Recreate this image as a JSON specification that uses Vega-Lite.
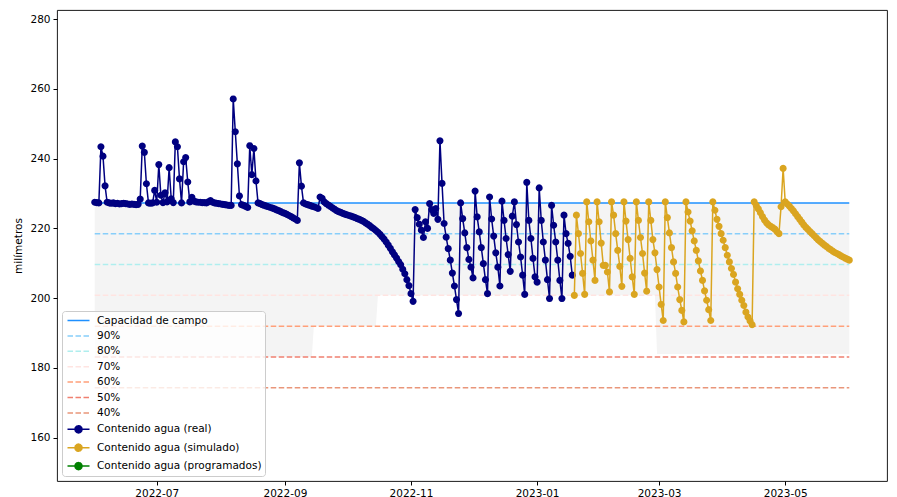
{
  "$schema": "https://vega.github.io/schema/vega-lite/v6.json",
  "width": 830,
  "height": 471,
  "autosize": "none",
  "padding": {"left": 57, "top": 10, "right": 10, "bottom": 16},
  "background": "white",
  "config": {
    "font": "DejaVu Sans",
    "view": {"stroke": "black", "strokeWidth": 0.9},
    "axis": {"domain": false, "grid": false, "labelFont": "DejaVu Sans", "labelFontSize": 10.5, "labelColor": "black", "tickColor": "black", "tickSize": 4, "labelPadding": 3, "titleFont": "DejaVu Sans", "titleFontSize": 10.5, "titleFontWeight": "normal", "titleColor": "black"},
    "legend": {"orient": "bottom-left", "offset": 5, "padding": 3, "symbolOffset": 7, "fillColor": "rgba(255,255,255,0.8)", "strokeColor": "#cccccc", "cornerRadius": 3, "labelFont": "DejaVu Sans", "labelFontSize": 10.5, "labelColor": "black", "labelLimit": 0, "symbolSize": 121, "labelOffset": 12, "rowPadding": 3.4, "title": null}
  },
  "datasets": {
    "band": [
      {"d": "2022-06-01", "hi": 227.3, "lo": 183.15},
      {"d": "2022-09-14", "hi": 227.3, "lo": 183.15},
      {"d": "2022-09-15", "hi": 227.3, "lo": 191.98},
      {"d": "2022-10-15", "hi": 227.3, "lo": 191.98},
      {"d": "2022-10-16", "hi": 227.3, "lo": 200.81},
      {"d": "2023-02-27", "hi": 227.3, "lo": 200.81},
      {"d": "2023-02-28", "hi": 227.3, "lo": 184.0},
      {"d": "2023-06-01", "hi": 227.3, "lo": 184.0}
    ],
    "niv": [
      {"s": "Capacidad de campo", "v": 227.3, "a": "2022-06-01", "b": "2023-06-01"},
      {"s": "90%", "v": 218.47, "a": "2022-06-01", "b": "2023-06-01"},
      {"s": "80%", "v": 209.64, "a": "2022-06-01", "b": "2023-06-01"},
      {"s": "70%", "v": 200.81, "a": "2022-06-01", "b": "2023-06-01"},
      {"s": "60%", "v": 191.98, "a": "2022-06-01", "b": "2023-06-01"},
      {"s": "50%", "v": 183.15, "a": "2022-06-01", "b": "2023-06-01"},
      {"s": "40%", "v": 174.32, "a": "2022-06-01", "b": "2023-06-01"}
    ],
    "real": [
      {"d":"2022-06-01","v":227.5},{"d":"2022-06-02","v":227.4},{"d":"2022-06-03","v":227.3},{"d":"2022-06-04","v":243.4},{"d":"2022-06-05","v":240.7},{"d":"2022-06-06","v":232.2},{"d":"2022-06-07","v":227.5},{"d":"2022-06-08","v":227.3},{"d":"2022-06-09","v":227.2},{"d":"2022-06-10","v":227.3},
      {"d":"2022-06-11","v":227.1},{"d":"2022-06-12","v":227.2},{"d":"2022-06-13","v":227.0},{"d":"2022-06-14","v":227.1},{"d":"2022-06-15","v":227.2},{"d":"2022-06-16","v":227.1},{"d":"2022-06-17","v":227.0},{"d":"2022-06-18","v":226.9},{"d":"2022-06-19","v":227.0},{"d":"2022-06-20","v":226.9},
      {"d":"2022-06-21","v":226.8},{"d":"2022-06-22","v":226.9},{"d":"2022-06-23","v":228.4},{"d":"2022-06-24","v":243.6},{"d":"2022-06-25","v":241.8},{"d":"2022-06-26","v":232.8},{"d":"2022-06-27","v":227.3},{"d":"2022-06-28","v":227.2},{"d":"2022-06-29","v":227.3},{"d":"2022-06-30","v":230.9},
      {"d":"2022-07-01","v":227.5},{"d":"2022-07-02","v":238.3},{"d":"2022-07-03","v":229.5},{"d":"2022-07-04","v":227.4},{"d":"2022-07-05","v":230.2},{"d":"2022-07-06","v":227.6},{"d":"2022-07-07","v":237.4},{"d":"2022-07-08","v":228.5},{"d":"2022-07-09","v":227.4},{"d":"2022-07-10","v":244.8},
      {"d":"2022-07-11","v":243.4},{"d":"2022-07-12","v":234.2},{"d":"2022-07-13","v":227.3},{"d":"2022-07-14","v":239.1},{"d":"2022-07-15","v":240.3},{"d":"2022-07-16","v":233.3},{"d":"2022-07-17","v":227.6},{"d":"2022-07-18","v":228.9},{"d":"2022-07-19","v":227.8},{"d":"2022-07-20","v":227.6},
      {"d":"2022-07-21","v":227.5},{"d":"2022-07-22","v":227.5},{"d":"2022-07-23","v":227.4},{"d":"2022-07-24","v":227.4},{"d":"2022-07-25","v":227.3},{"d":"2022-07-26","v":227.6},{"d":"2022-07-27","v":228.0},{"d":"2022-07-28","v":227.5},{"d":"2022-07-29","v":227.3},{"d":"2022-07-30","v":227.2},
      {"d":"2022-07-31","v":227.1},{"d":"2022-08-01","v":227.0},{"d":"2022-08-02","v":226.9},{"d":"2022-08-03","v":226.8},{"d":"2022-08-04","v":226.7},{"d":"2022-08-05","v":226.6},{"d":"2022-08-06","v":226.6},{"d":"2022-08-07","v":257.1},{"d":"2022-08-08","v":247.7},{"d":"2022-08-09","v":238.5},
      {"d":"2022-08-10","v":229.3},{"d":"2022-08-11","v":226.8},{"d":"2022-08-12","v":226.6},{"d":"2022-08-13","v":226.3},{"d":"2022-08-14","v":226.0},{"d":"2022-08-15","v":243.7},{"d":"2022-08-16","v":235.4},{"d":"2022-08-17","v":242.9},{"d":"2022-08-18","v":233.6},{"d":"2022-08-19","v":227.3},
      {"d":"2022-08-20","v":227.1},{"d":"2022-08-21","v":226.8},{"d":"2022-08-22","v":226.6},{"d":"2022-08-23","v":226.4},{"d":"2022-08-24","v":226.2},{"d":"2022-08-25","v":226.0},{"d":"2022-08-26","v":225.8},{"d":"2022-08-27","v":225.6},{"d":"2022-08-28","v":225.3},{"d":"2022-08-29","v":225.1},
      {"d":"2022-08-30","v":224.8},{"d":"2022-08-31","v":224.5},{"d":"2022-09-01","v":224.3},{"d":"2022-09-02","v":224.0},{"d":"2022-09-03","v":223.7},{"d":"2022-09-04","v":223.4},{"d":"2022-09-05","v":223.0},{"d":"2022-09-06","v":222.7},{"d":"2022-09-07","v":222.3},{"d":"2022-09-08","v":238.8},
      {"d":"2022-09-09","v":232.1},{"d":"2022-09-10","v":227.3},{"d":"2022-09-11","v":227.0},{"d":"2022-09-12","v":226.8},{"d":"2022-09-13","v":226.6},{"d":"2022-09-14","v":226.4},{"d":"2022-09-15","v":226.2},{"d":"2022-09-16","v":226.0},{"d":"2022-09-17","v":225.7},{"d":"2022-09-18","v":229.0},
      {"d":"2022-09-19","v":228.6},{"d":"2022-09-20","v":227.6},{"d":"2022-09-21","v":227.1},{"d":"2022-09-22","v":226.7},{"d":"2022-09-23","v":226.3},{"d":"2022-09-24","v":225.9},{"d":"2022-09-25","v":225.5},{"d":"2022-09-26","v":225.1},{"d":"2022-09-27","v":224.8},{"d":"2022-09-28","v":224.6},
      {"d":"2022-09-29","v":224.3},{"d":"2022-09-30","v":224.1},{"d":"2022-10-01","v":223.9},{"d":"2022-10-02","v":223.7},{"d":"2022-10-03","v":223.5},{"d":"2022-10-04","v":223.3},{"d":"2022-10-05","v":223.1},{"d":"2022-10-06","v":222.8},{"d":"2022-10-07","v":222.6},{"d":"2022-10-08","v":222.3},
      {"d":"2022-10-09","v":222.0},{"d":"2022-10-10","v":221.6},{"d":"2022-10-11","v":221.2},{"d":"2022-10-12","v":220.8},{"d":"2022-10-13","v":220.3},{"d":"2022-10-14","v":219.9},{"d":"2022-10-15","v":219.4},{"d":"2022-10-16","v":218.9},{"d":"2022-10-17","v":218.3},{"d":"2022-10-18","v":217.6},
      {"d":"2022-10-19","v":216.9},{"d":"2022-10-20","v":216.1},{"d":"2022-10-21","v":215.2},{"d":"2022-10-22","v":214.3},{"d":"2022-10-23","v":213.3},{"d":"2022-10-24","v":212.4},{"d":"2022-10-25","v":211.5},{"d":"2022-10-26","v":210.5},{"d":"2022-10-27","v":209.6},{"d":"2022-10-28","v":208.3},
      {"d":"2022-10-29","v":207.0},{"d":"2022-10-30","v":205.3},{"d":"2022-10-31","v":203.6},{"d":"2022-11-01","v":201.3},{"d":"2022-11-02","v":199.1},{"d":"2022-11-03","v":225.4},{"d":"2022-11-04","v":223.1},{"d":"2022-11-05","v":221.2},{"d":"2022-11-06","v":219.5},{"d":"2022-11-07","v":217.4},
      {"d":"2022-11-08","v":221.9},{"d":"2022-11-09","v":220.0},{"d":"2022-11-10","v":227.1},{"d":"2022-11-11","v":225.4},{"d":"2022-11-12","v":224.3},{"d":"2022-11-13","v":225.7},{"d":"2022-11-14","v":222.6},{"d":"2022-11-15","v":245.1},{"d":"2022-11-16","v":232.9},{"d":"2022-11-17","v":221.4},
      {"d":"2022-11-18","v":217.5},{"d":"2022-11-19","v":214.2},{"d":"2022-11-20","v":210.9},{"d":"2022-11-21","v":207.2},{"d":"2022-11-22","v":203.5},{"d":"2022-11-23","v":199.6},{"d":"2022-11-24","v":195.6},{"d":"2022-11-25","v":227.3},{"d":"2022-11-26","v":222.8},{"d":"2022-11-27","v":218.7},
      {"d":"2022-11-28","v":214.5},{"d":"2022-11-29","v":211.1},{"d":"2022-11-30","v":208.9},{"d":"2022-12-01","v":205.8},{"d":"2022-12-02","v":230.7},{"d":"2022-12-03","v":223.3},{"d":"2022-12-04","v":219.0},{"d":"2022-12-05","v":214.5},{"d":"2022-12-06","v":209.9},{"d":"2022-12-07","v":205.3},
      {"d":"2022-12-08","v":201.3},{"d":"2022-12-09","v":229.0},{"d":"2022-12-10","v":222.7},{"d":"2022-12-11","v":217.8},{"d":"2022-12-12","v":213.0},{"d":"2022-12-13","v":208.9},{"d":"2022-12-14","v":203.5},{"d":"2022-12-15","v":227.8},{"d":"2022-12-16","v":222.3},{"d":"2022-12-17","v":217.1},
      {"d":"2022-12-18","v":212.5},{"d":"2022-12-19","v":207.7},{"d":"2022-12-20","v":223.5},{"d":"2022-12-21","v":227.6},{"d":"2022-12-22","v":221.1},{"d":"2022-12-23","v":216.1},{"d":"2022-12-24","v":211.8},{"d":"2022-12-25","v":206.6},{"d":"2022-12-26","v":201.1},{"d":"2022-12-27","v":233.2},
      {"d":"2022-12-28","v":222.3},{"d":"2022-12-29","v":217.1},{"d":"2022-12-30","v":211.4},{"d":"2022-12-31","v":206.1},{"d":"2023-01-01","v":204.6},{"d":"2023-01-02","v":231.6},{"d":"2023-01-03","v":222.3},{"d":"2023-01-04","v":216.1},{"d":"2023-01-05","v":210.9},{"d":"2023-01-06","v":205.3},
      {"d":"2023-01-07","v":199.9},{"d":"2023-01-08","v":226.6},{"d":"2023-01-09","v":220.9},{"d":"2023-01-10","v":216.1},{"d":"2023-01-11","v":210.9},{"d":"2023-01-12","v":205.1},{"d":"2023-01-13","v":199.9},{"d":"2023-01-14","v":223.8},{"d":"2023-01-15","v":218.5},{"d":"2023-01-16","v":215.7},
      {"d":"2023-01-17","v":212.0},{"d":"2023-01-18","v":206.6}
    ],
    "sim": [
      {"d":"2023-01-19","v":200.8},{"d":"2023-01-20","v":223.8},{"d":"2023-01-21","v":218.5},{"d":"2023-01-22","v":212.8},{"d":"2023-01-23","v":207.1},{"d":"2023-01-24","v":201.1},{"d":"2023-01-25","v":227.6},{"d":"2023-01-26","v":221.9},{"d":"2023-01-27","v":216.4},{"d":"2023-01-28","v":210.9},
      {"d":"2023-01-29","v":205.1},{"d":"2023-01-30","v":227.6},{"d":"2023-01-31","v":221.9},{"d":"2023-02-01","v":215.8},{"d":"2023-02-02","v":209.4},{"d":"2023-02-03","v":209.4},{"d":"2023-02-04","v":207.5},{"d":"2023-02-05","v":201.8},{"d":"2023-02-06","v":227.6},{"d":"2023-02-07","v":223.8},
      {"d":"2023-02-08","v":218.5},{"d":"2023-02-09","v":213.7},{"d":"2023-02-10","v":209.1},{"d":"2023-02-11","v":203.4},{"d":"2023-02-12","v":227.6},{"d":"2023-02-13","v":222.1},{"d":"2023-02-14","v":216.8},{"d":"2023-02-15","v":211.4},{"d":"2023-02-16","v":206.1},{"d":"2023-02-17","v":201.1},
      {"d":"2023-02-18","v":227.6},{"d":"2023-02-19","v":222.3},{"d":"2023-02-20","v":217.4},{"d":"2023-02-21","v":212.8},{"d":"2023-02-22","v":207.2},{"d":"2023-02-23","v":202.0},{"d":"2023-02-24","v":227.6},{"d":"2023-02-25","v":222.3},{"d":"2023-02-26","v":216.8},{"d":"2023-02-27","v":213.0},
      {"d":"2023-02-28","v":208.2},{"d":"2023-03-01","v":203.2},{"d":"2023-03-02","v":198.2},{"d":"2023-03-03","v":193.6},{"d":"2023-03-04","v":227.6},{"d":"2023-03-05","v":223.1},{"d":"2023-03-06","v":218.7},{"d":"2023-03-07","v":214.5},{"d":"2023-03-08","v":210.4},{"d":"2023-03-09","v":207.1},
      {"d":"2023-03-10","v":203.2},{"d":"2023-03-11","v":199.6},{"d":"2023-03-12","v":196.5},{"d":"2023-03-13","v":193.2},{"d":"2023-03-14","v":227.6},{"d":"2023-03-15","v":224.7},{"d":"2023-03-16","v":222.1},{"d":"2023-03-17","v":219.3},{"d":"2023-03-18","v":216.4},{"d":"2023-03-19","v":213.7},
      {"d":"2023-03-20","v":210.7},{"d":"2023-03-21","v":207.8},{"d":"2023-03-22","v":205.1},{"d":"2023-03-23","v":202.1},{"d":"2023-03-24","v":199.4},{"d":"2023-03-25","v":196.7},{"d":"2023-03-26","v":193.6},{"d":"2023-03-27","v":227.6},{"d":"2023-03-28","v":225.2},{"d":"2023-03-29","v":222.6},
      {"d":"2023-03-30","v":220.6},{"d":"2023-03-31","v":218.5},{"d":"2023-04-01","v":216.6},{"d":"2023-04-02","v":214.5},{"d":"2023-04-03","v":212.3},{"d":"2023-04-04","v":210.4},{"d":"2023-04-05","v":208.5},{"d":"2023-04-06","v":206.8},{"d":"2023-04-07","v":204.6},{"d":"2023-04-08","v":202.7},
      {"d":"2023-04-09","v":201.1},{"d":"2023-04-10","v":199.4},{"d":"2023-04-11","v":197.9},{"d":"2023-04-12","v":196.0},{"d":"2023-04-13","v":194.6},{"d":"2023-04-14","v":193.5},{"d":"2023-04-15","v":192.4},{"d":"2023-04-16","v":227.6},{"d":"2023-04-17","v":226.6},{"d":"2023-04-18","v":225.6},
      {"d":"2023-04-19","v":224.5},{"d":"2023-04-20","v":223.4},{"d":"2023-04-21","v":222.4},{"d":"2023-04-22","v":221.6},{"d":"2023-04-23","v":221.0},{"d":"2023-04-24","v":220.6},{"d":"2023-04-25","v":220.2},{"d":"2023-04-26","v":219.8},{"d":"2023-04-27","v":219.1},{"d":"2023-04-28","v":218.5},
      {"d":"2023-04-29","v":226.2},{"d":"2023-04-30","v":237.2},{"d":"2023-05-01","v":227.6},{"d":"2023-05-02","v":227.0},{"d":"2023-05-03","v":226.4},{"d":"2023-05-04","v":225.7},{"d":"2023-05-05","v":225.0},{"d":"2023-05-06","v":224.2},{"d":"2023-05-07","v":223.4},{"d":"2023-05-08","v":222.6},
      {"d":"2023-05-09","v":221.8},{"d":"2023-05-10","v":221.0},{"d":"2023-05-11","v":220.3},{"d":"2023-05-12","v":219.7},{"d":"2023-05-13","v":219.1},{"d":"2023-05-14","v":218.5},{"d":"2023-05-15","v":217.9},{"d":"2023-05-16","v":217.3},{"d":"2023-05-17","v":216.7},{"d":"2023-05-18","v":216.2},
      {"d":"2023-05-19","v":215.7},{"d":"2023-05-20","v":215.2},{"d":"2023-05-21","v":214.8},{"d":"2023-05-22","v":214.3},{"d":"2023-05-23","v":213.9},{"d":"2023-05-24","v":213.5},{"d":"2023-05-25","v":213.1},{"d":"2023-05-26","v":212.8},{"d":"2023-05-27","v":212.5},{"d":"2023-05-28","v":212.1},
      {"d":"2023-05-29","v":211.8},{"d":"2023-05-30","v":211.5},{"d":"2023-05-31","v":211.2},{"d":"2023-06-01","v":210.9}
    ]
  },
  "layer": [
    {
      "data": {"name": "band"},
      "mark": {"type": "area", "color": "#f4f4f4", "opacity": 1},
      "encoding": {
        "x": {"field": "d", "type": "temporal", "title": null,
          "scale": {"type": "utc", "domain": [{"year": 2022, "month": 5, "date": 13, "hours": 18, "utc": true}, {"year": 2023, "month": 6, "date": 19, "hours": 6, "utc": true}]},
          "axis": {"format": "%Y-%m", "values": [{"year": 2022, "month": 7, "date": 1, "utc": true}, {"year": 2022, "month": 9, "date": 1, "utc": true}, {"year": 2022, "month": 11, "date": 1, "utc": true}, {"year": 2023, "month": 1, "date": 1, "utc": true}, {"year": 2023, "month": 3, "date": 1, "utc": true}, {"year": 2023, "month": 5, "date": 1, "utc": true}]}},
        "y": {"field": "lo", "type": "quantitative", "title": "milímetros",
          "scale": {"domain": [147.6, 282.6], "nice": false, "zero": false},
          "axis": {"values": [160, 180, 200, 220, 240, 260, 280], "titlePadding": 6}},
        "y2": {"field": "hi"}
      }
    },
    {
      "data": {"name": "niv"},
      "mark": {"type": "rule", "strokeWidth": 1.5},
      "encoding": {
        "x": {"field": "a", "type": "temporal", "title": null},
        "x2": {"field": "b"},
        "y": {"field": "v", "type": "quantitative", "title": "milímetros"},
        "color": {"field": "s", "type": "nominal",
          "scale": {"domain": ["Capacidad de campo", "90%", "80%", "70%", "60%", "50%", "40%", "Contenido agua (real)", "Contenido agua (simulado)", "Contenido agua (programados)"],
            "range": ["#1E90FF", "#87CEFA", "#AFEEEE", "#FFE4E1", "#FFA07A", "#F08070", "#E9967A", "#000080", "#DAA520", "#008000"]},
          "legend": {"encode": {"symbols": {"update": {"fill": {"scale": "color", "field": "value"}, "stroke": {"scale": "color", "field": "value"}, "strokeWidth": {"value": 1.5}, "strokeDash": {"scale": "strokeDash", "field": "value"}, "shape": {"scale": "shape", "field": "value"}, "size": {"value": 121}, "opacity": {"value": 1}}}}}},
        "strokeDash": {"field": "s", "type": "nominal",
          "scale": {"domain": ["Capacidad de campo", "90%", "80%", "70%", "60%", "50%", "40%", "Contenido agua (real)", "Contenido agua (simulado)", "Contenido agua (programados)"],
            "range": [[1, 0], [5.5, 2.5], [5.5, 2.5], [5.5, 2.5], [5.5, 2.5], [5.5, 2.5], [5.5, 2.5], [1, 0], [1, 0], [1, 0]]}}
      }
    },
    {
      "data": {"name": "real"},
      "mark": {"type": "line", "strokeWidth": 1.5},
      "encoding": {
        "x": {"field": "d", "type": "temporal", "title": null},
        "y": {"field": "v", "type": "quantitative", "title": "milímetros"},
        "color": {"datum": "Contenido agua (real)", "type": "nominal"}
      }
    },
    {
      "data": {"name": "real"},
      "mark": {"type": "point", "filled": true, "opacity": 1, "size": 121, "strokeWidth": 0},
      "encoding": {
        "x": {"field": "d", "type": "temporal", "title": null},
        "y": {"field": "v", "type": "quantitative", "title": "milímetros"},
        "color": {"datum": "Contenido agua (real)", "type": "nominal"},
        "shape": {"datum": "Contenido agua (real)", "type": "nominal",
          "scale": {"domain": ["Capacidad de campo", "90%", "80%", "70%", "60%", "50%", "40%", "Contenido agua (real)", "Contenido agua (simulado)", "Contenido agua (programados)"],
            "range": ["M-2,0H2", "M-2,0H2", "M-2,0H2", "M-2,0H2", "M-2,0H2", "M-2,0H2", "M-2,0H2",
              "M-2,0H2M0.65,0L0.563,0.325L0.325,0.563L0,0.65L-0.325,0.563L-0.563,0.325L-0.65,0L-0.563,-0.325L-0.325,-0.563L0,-0.65L0.325,-0.563L0.563,-0.325Z",
              "M-2,0H2M0.65,0L0.563,0.325L0.325,0.563L0,0.65L-0.325,0.563L-0.563,0.325L-0.65,0L-0.563,-0.325L-0.325,-0.563L0,-0.65L0.325,-0.563L0.563,-0.325Z",
              "M-2,0H2M0.65,0L0.563,0.325L0.325,0.563L0,0.65L-0.325,0.563L-0.563,0.325L-0.65,0L-0.563,-0.325L-0.325,-0.563L0,-0.65L0.325,-0.563L0.563,-0.325Z"]}}
      }
    },
    {
      "data": {"name": "sim"},
      "mark": {"type": "line", "strokeWidth": 1.5},
      "encoding": {
        "x": {"field": "d", "type": "temporal", "title": null},
        "y": {"field": "v", "type": "quantitative", "title": "milímetros"},
        "color": {"datum": "Contenido agua (simulado)", "type": "nominal"}
      }
    },
    {
      "data": {"name": "sim"},
      "mark": {"type": "point", "filled": true, "opacity": 1, "size": 121, "strokeWidth": 0},
      "encoding": {
        "x": {"field": "d", "type": "temporal", "title": null},
        "y": {"field": "v", "type": "quantitative", "title": "milímetros"},
        "color": {"datum": "Contenido agua (simulado)", "type": "nominal"},
        "shape": {"datum": "Contenido agua (simulado)", "type": "nominal"}
      }
    }
  ]
}
